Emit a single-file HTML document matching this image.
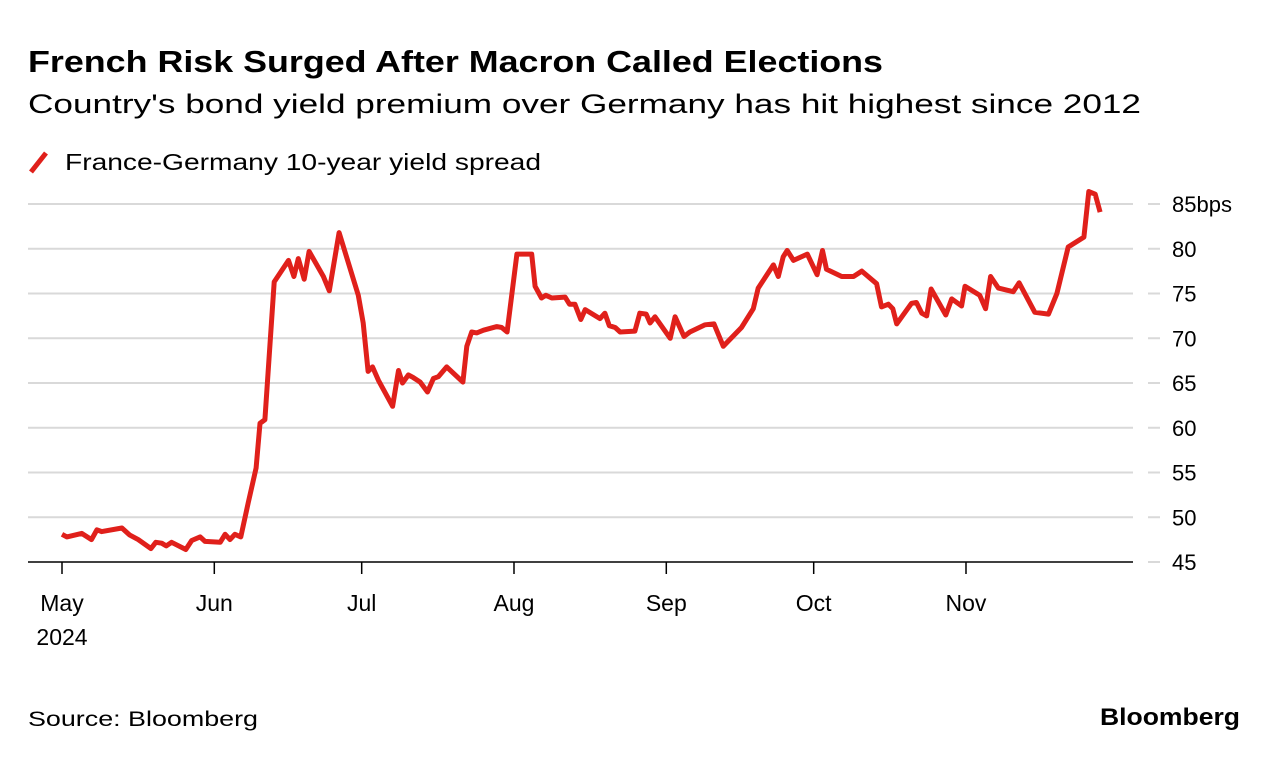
<!DOCTYPE html>
<html><head><meta charset="utf-8"><style>
html,body{margin:0;padding:0;background:#fff;}
svg{display:block;font-family:"Liberation Sans",Arial,sans-serif;}
</style></head><body>
<svg id="chart" width="1279" height="760" viewBox="0 0 1279 760">
<text x="28" y="72" font-size="31" font-weight="bold" fill="#000" textLength="855" lengthAdjust="spacingAndGlyphs">French Risk Surged After Macron Called Elections</text>
<text x="28" y="113" font-size="27" fill="#000" textLength="1113" lengthAdjust="spacingAndGlyphs">Country's bond yield premium over Germany has hit highest since 2012</text>
<g>
<line x1="31" y1="172" x2="46" y2="153" stroke="#e0201b" stroke-width="5"/>
<text x="65" y="170" font-size="23" fill="#000" textLength="476" lengthAdjust="spacingAndGlyphs">France-Germany 10-year yield spread</text>
</g>
<g id="grid"></g>
<g id="ylabels"></g>
<g id="xaxis"></g>
<g id="series"></g>
<text x="28" y="726" font-size="21" fill="#000" textLength="230" lengthAdjust="spacingAndGlyphs">Source: Bloomberg</text>
<text x="1240" y="725" font-size="24" font-weight="bold" fill="#000" text-anchor="end" textLength="140" lengthAdjust="spacingAndGlyphs">Bloomberg</text>
</svg>
<script>
const yTicks = [45,50,55,60,65,70,75,80,85];
const yTickLabels = ["45","50","55","60","65","70","75","80","85bps"];
const monthDays = [0,31,61,92,123,153,184];
const monthLabels = ["May","Jun","Jul","Aug","Sep","Oct","Nov"];
const days = [0,1,4,6,7.1,8.1,12.2,13.8,15.5,18.1,19.1,20.3,21.2,22.3,25.2,26.4,28.1,29.1,32.2,33.2,34.2,35.2,36.4,37.9,39.5,40.3,41.3,43.2,46.1,47.2,48.1,49.3,50.3,53.2,54.4,56.4,60.3,61.3,62.3,63.2,64.4,67.3,68.5,69.3,70.5,71.5,72.9,74.4,75.6,76.6,78.3,81.6,82.4,83.4,84.4,85.8,88.5,89.5,90.6,92.6,95.6,96.3,97.6,98.5,99.7,102.4,103.3,104.4,105.6,106.5,109.5,110.5,111.4,112.6,113.6,116.6,117.6,118.9,119.7,120.7,123.8,124.8,126.6,127.8,130.9,132.7,134.6,138.3,140.7,141.7,144.8,145.8,146.8,147.6,148.9,151.7,153.7,154.8,155.6,158.7,161.1,162.8,165.8,166.8,168.2,169.1,169.9,172.9,173.9,175.0,176.0,176.9,179.9,181.1,183.1,183.8,186.8,188.0,189.0,190.6,193.6,194.8,198.0,200.8,202.5,204.8,208.0,209.0,210.3,211.3];
const spread = [48.1,47.8,48.2,47.5,48.6,48.4,48.8,48.0,47.5,46.5,47.2,47.1,46.8,47.2,46.4,47.4,47.8,47.3,47.2,48.1,47.5,48.1,47.8,51.6,55.5,60.5,60.9,76.3,78.7,76.9,78.9,76.6,79.7,76.9,75.3,81.8,74.8,71.7,66.3,66.8,65.3,62.4,66.4,65.0,65.9,65.6,65.1,64.0,65.5,65.7,66.8,65.1,69.1,70.7,70.6,70.9,71.3,71.2,70.7,79.4,79.4,75.8,74.5,74.8,74.5,74.6,73.8,73.8,72.1,73.2,72.2,72.8,71.4,71.2,70.7,70.8,72.8,72.7,71.7,72.4,70.0,72.4,70.2,70.7,71.5,71.6,69.1,71.2,73.3,75.6,78.2,76.9,79.1,79.8,78.7,79.4,77.1,79.8,77.7,76.9,76.9,77.5,76.1,73.5,73.8,73.3,71.6,73.9,74.0,72.8,72.5,75.5,72.6,74.4,73.6,75.8,74.8,73.3,76.9,75.6,75.2,76.2,72.9,72.7,75.0,80.2,81.3,86.4,86.1,84.1];

const NS = "http://www.w3.org/2000/svg";
const xScale = d => 62 + d * 4.913;
const yScale = v => 562 - (v - 45) * 8.95;
function mk(tag, attrs, parent){const e=document.createElementNS(NS,tag);for(const k in attrs)e.setAttribute(k,attrs[k]);parent.appendChild(e);return e;}

const grid=document.getElementById('grid'), yl=document.getElementById('ylabels'), xa=document.getElementById('xaxis'), ser=document.getElementById('series');
yTicks.forEach((t,i)=>{
  if(t!==45){
    const g=mk('line',{x1:28,x2:1133,y1:yScale(t),y2:yScale(t),stroke:'#d9d9d9','stroke-width':2},grid);
    
    
  }
  const tk=mk('line',{x1:1148,x2:1160,y1:yScale(t),y2:yScale(t),stroke:'#d9d9d9','stroke-width':2},grid);
  
  
  const lb=mk('text',{x:1172,y:yScale(t)+8,'font-size':22,fill:'#000'},yl);
  lb.textContent=yTickLabels[i];
  
  
});
const ax=mk('line',{x1:28,x2:1133,y1:562,y2:562,stroke:'#000','stroke-width':1.5},xa);


monthDays.forEach((d,i)=>{
  const x=xScale(d);
  const t=mk('line',{x1:x,x2:x,y1:562,y2:574,stroke:'#000','stroke-width':1.5},xa);
  
  
  const l=mk('text',{x:x,y:611,'font-size':23,fill:'#000','text-anchor':'middle'},xa);
  l.textContent=monthLabels[i];
  
  
});
const yr=mk('text',{x:xScale(0),y:645,'font-size':23,fill:'#000','text-anchor':'middle'},xa);
yr.textContent='2024';


const pts=days.map((d,i)=>xScale(d).toFixed(1)+','+yScale(spread[i]).toFixed(1)).join(' ');
const pl=mk('polyline',{points:pts,fill:'none',stroke:'#e0201b','stroke-width':5,'stroke-linejoin':'round','stroke-linecap':'butt'},ser);


</script>
</body></html>
